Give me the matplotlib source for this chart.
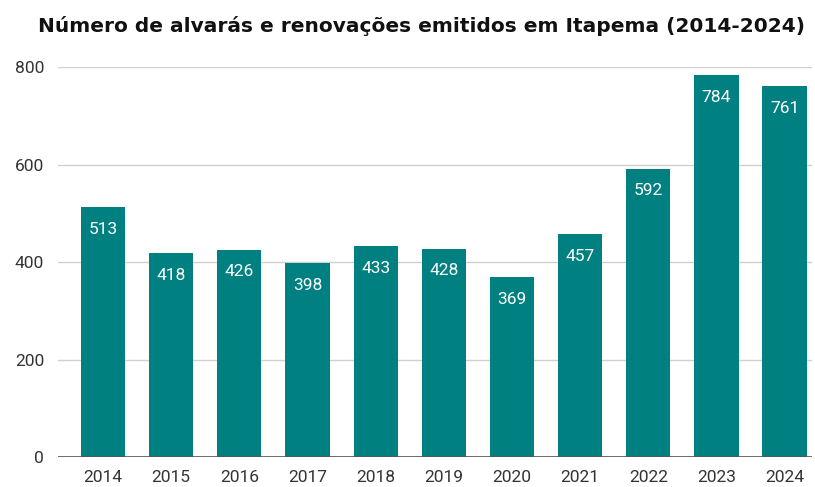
import matplotlib.pyplot as plt

years = ['2014', '2015', '2016', '2017', '2018', '2019', '2020', '2021', '2022', '2023', '2024']
alvaras = [513, 418, 426, 398, 433, 428, 369, 457, 592, 784, 761]
yticks = [0, 200, 400, 600, 800]

plt.rcParams['font.family'] = ['Roboto', 'DejaVu Sans']

fig = plt.figure(figsize=(8.15, 4.87), dpi=100)
ax = fig.add_axes([0.0712, 0.0616, 0.925, 0.80])

x = range(len(years))
bars = ax.bar(x, alvaras, width=0.65, color='#008080', zorder=3)

for b, v in zip(bars, alvaras):
    ax.annotate(str(v), (b.get_x() + b.get_width() / 2, v), xytext=(0, -16),
                textcoords='offset points', ha='center', va='center',
                color='white', fontsize=12.5, zorder=4)

ax.set_xticks(list(x))
ax.set_xticklabels(years)
ax.set_yticks(yticks)
ax.set_ylim(0, 800)
ax.set_xlim(-0.66, 10.4)
ax.grid(axis='y', color='#d0d0d0', linewidth=1, zorder=0)
ax.axhline(0, color='#555555', linewidth=1.2, zorder=4)
for s in ax.spines.values():
    s.set_visible(False)
ax.tick_params(length=0, labelsize=12.5, labelcolor='#333333')
ax.tick_params(axis='x', pad=9)
ax.tick_params(axis='y', pad=10)

# titulo mais largo no original
fig.suptitle('Número de alvarás e renovações emitidos em Itapema (2014-2024)',
             x=0.517, y=0.968, fontsize=14.5, fontweight='bold', color='#111111',
             family='DejaVu Sans')

fig.savefig('out.png', dpi=100)
